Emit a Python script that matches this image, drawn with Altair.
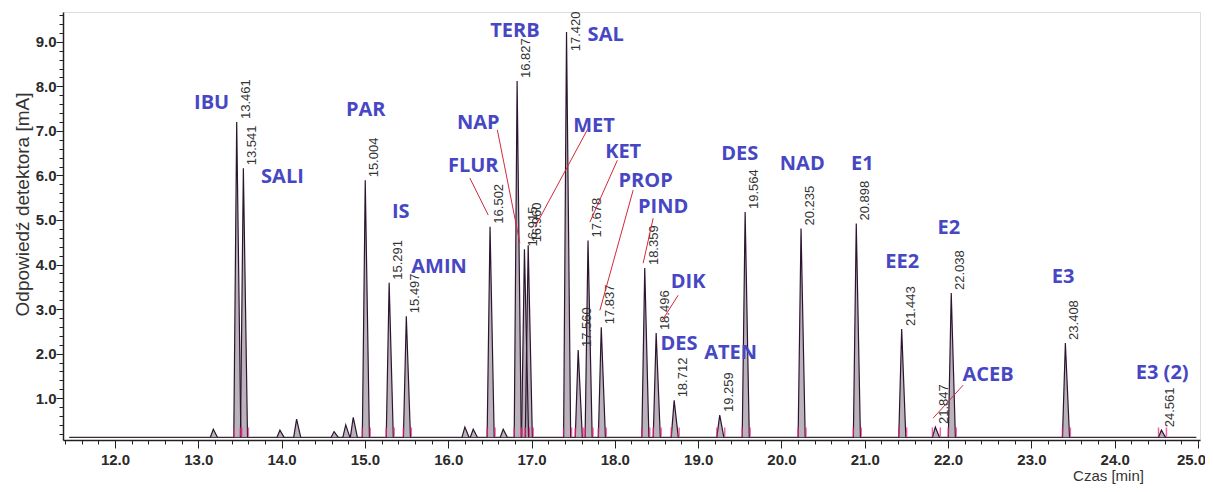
import altair as alt
import pandas as pd

# ---- data ----
peak_rt = [13.461, 13.541, 15.004, 15.291, 15.497, 16.502, 16.827, 16.915, 16.960,
           17.420, 17.560, 17.678, 17.837, 18.359, 18.496, 18.712, 19.259, 19.564,
           20.235, 20.898, 21.443, 21.847, 22.038, 23.408, 24.561]
peak_h = [7.20, 6.16, 5.89, 3.59, 2.84, 4.85, 8.12, 4.34, 4.43,
          9.22, 2.08, 4.54, 2.59, 3.92, 2.46, 0.95, 0.62, 5.18,
          4.81, 4.92, 2.55, 0.35, 3.36, 2.24, 0.28]
# where each retention-time label starts (mostly the peak top)
label_v = [7.20, 6.16, 5.89, 3.59, 2.84, 4.85, 8.12, 4.34, 4.43,
           8.72, 2.08, 4.54, 2.59, 3.92, 2.46, 0.95, 0.62, 5.18,
           4.81, 4.92, 2.55, 0.35, 3.36, 2.24, 0.28]

minor_rt = [13.18, 13.98, 14.18, 14.63, 14.77, 14.86, 16.20, 16.30, 16.66]
minor_h = [0.30, 0.28, 0.53, 0.25, 0.40, 0.57, 0.35, 0.30, 0.30]

names = ["IBU", "SALI", "PAR", "IS", "AMIN", "FLUR", "NAP", "TERB", "SAL", "MET",
         "KET", "PROP", "PIND", "DIK", "DES", "ATEN", "DES", "NAD", "E1", "EE2",
         "E2", "ACEB", "E3", "E3 (2)"]
name_t = [13.16, 14.01, 15.01, 15.43, 15.89, 16.30, 16.36, 16.80, 17.89, 17.75,
          18.10, 18.37, 18.58, 18.88, 18.77, 19.39, 19.50, 20.25, 20.97, 21.45,
          22.01, 22.48, 23.38, 24.57]
name_y = [7.62, 5.96, 7.46, 5.18, 3.94, 6.21, 7.17, 9.24, 9.15, 7.11,
          6.52, 5.87, 5.29, 3.60, 2.21, 2.01, 6.48, 6.25, 6.25, 4.05,
          4.82, 1.52, 3.72, 1.56]

lead_t1 = [16.26, 16.59, 17.68, 18.03, 18.22, 18.46, 18.76, 22.18]
lead_y1 = [5.94, 7.02, 7.06, 6.34, 5.67, 5.04, 3.31, 1.29]
lead_t2 = [16.48, 16.86, 17.04, 17.70, 17.82, 18.34, 18.57, 21.82]
lead_y2 = [5.11, 4.48, 4.84, 4.95, 2.97, 4.03, 2.75, 0.55]

x_ticks = [round(11.4 + 0.2 * i, 1) for i in range(69)]
y_ticks = [round(0.2 * i, 1) for i in range(1, 49)]

BASE = 0.12
X_DOMAIN = [11.376, 25.024]
Y_DOMAIN = [0.06, 9.67]

# ---- tables ----
rows = []
for i, (t, h) in enumerate(zip(peak_rt + minor_rt, peak_h + minor_h)):
    rows.append({"pid": i, "t": t - 0.035, "v": BASE, "base": BASE})
    rows.append({"pid": i, "t": t, "v": h, "base": BASE})
    rows.append({"pid": i, "t": t + 0.05, "v": BASE, "base": BASE})
trace = pd.DataFrame(rows)

labels = pd.DataFrame({"t": peak_rt, "v": label_v,
                       "lab": [f"{t:.3f}" for t in peak_rt]})
marks = pd.DataFrame({"t": [t - 0.035 for t in peak_rt] + [t + 0.06 for t in peak_rt],
                      "v": [BASE + 0.12] * (2 * len(peak_rt))})
namedf = pd.DataFrame({"t": name_t, "v": name_y, "name": names})
leads = pd.DataFrame({"t": lead_t1, "v": lead_y1, "t2": lead_t2, "v2": lead_y2})
basedf = pd.DataFrame({"t": [11.45], "t2": [24.98], "v": [BASE]})

xs = alt.Scale(domain=X_DOMAIN, nice=False, zero=False)
ys = alt.Scale(domain=Y_DOMAIN, nice=False, zero=False)

major = "abs(datum.value - round(datum.value)) < 0.01"
x_axis = alt.Axis(
    values=x_ticks,
    labelExpr=f"({major}) ? format(datum.value, '.1f') : ''",
    tickSize={"condition": {"test": major, "value": 8}, "value": 4},
    labelOffset={"condition": {"test": "datum.value > 24.9", "value": -7}, "value": 0},
    grid=False, labelFont="Liberation Sans", labelFontWeight="bold",
    labelFontSize=15, labelColor="#2a2a2a", labelPadding=4, labelFlush=False,
    domainColor="#222", domainWidth=1.5, tickColor="#222",
    title="Czas [min]", titleFont="Liberation Sans", titleFontWeight="normal",
    titleFontSize=15, titleColor="#333", titleX=1045, titleY=43,
    titleAlign="center", titleBaseline="bottom", titleAnchor="start",
)
y_axis = alt.Axis(
    values=y_ticks,
    labelExpr=f"({major}) ? format(datum.value, '.1f') : ''",
    tickSize={"condition": {"test": major, "value": 7}, "value": 4},
    grid=False, labelFont="Liberation Sans", labelFontWeight="bold",
    labelFontSize=15, labelColor="#2a2a2a", labelPadding=0,
    domainColor="#222", domainWidth=1.5, tickColor="#222",
    title="Odpowiedź detektora [mA]", titleFont="Liberation Sans",
    titleFontWeight="normal", titleFontSize=19, titleColor="#333",
    titleX=-41, titleY=192, titleAngle=270, titleAlign="center",
    titleBaseline="middle", titleAnchor="start",
)

X = alt.X("t:Q", scale=xs, axis=x_axis)
Y = alt.Y("v:Q", scale=ys, axis=y_axis)

baseline = alt.Chart(basedf).mark_rule(color="#3a2a38", strokeWidth=1.2, clip=True).encode(
    x=X, x2="t2:Q", y=Y,
)
area = alt.Chart(trace).mark_area(color="#a49aa4", opacity=0.75, clip=True).encode(
    x=X, y=Y, y2="base:Q", detail="pid:N",
)
line = alt.Chart(trace).mark_line(color="#2d1530", strokeWidth=1.2, clip=True).encode(
    x=X, y=Y, detail="pid:N",
)
pink = alt.Chart(marks).mark_tick(color="#f0207f", orient="vertical", size=9,
                                  thickness=1.5, clip=True).encode(x=X, y=Y)
rtlab = alt.Chart(labels).mark_text(angle=270, align="left", baseline="middle",
                                    dx=3, dy=9, font="Liberation Sans",
                                    fontSize=13, color="#333").encode(
    x=X, y=Y, text="lab:N",
)
leaders = alt.Chart(leads).mark_rule(color="#d4283c", strokeWidth=1).encode(
    x=X, y=Y, x2="t2:Q", y2="v2:Q",
)
namelab = alt.Chart(namedf).mark_text(font="Open Sans", fontWeight="bold",
                                      fontSize=20, color="#4747c4",
                                      align="center", baseline="middle").encode(
    x=X, y=Y, text="name:N",
)

chart = alt.layer(baseline, area, line, pink, rtlab, leaders, namelab).properties(
    width=1137, height=428,
    autosize=alt.AutoSizeParams(type="none"),
    padding={"left": 55, "top": 4, "right": 5, "bottom": 44},
).configure_view(stroke="#444", strokeWidth=1).configure(background="white")

chart.save("out.html", embed_options={"renderer": "svg", "actions": False})
